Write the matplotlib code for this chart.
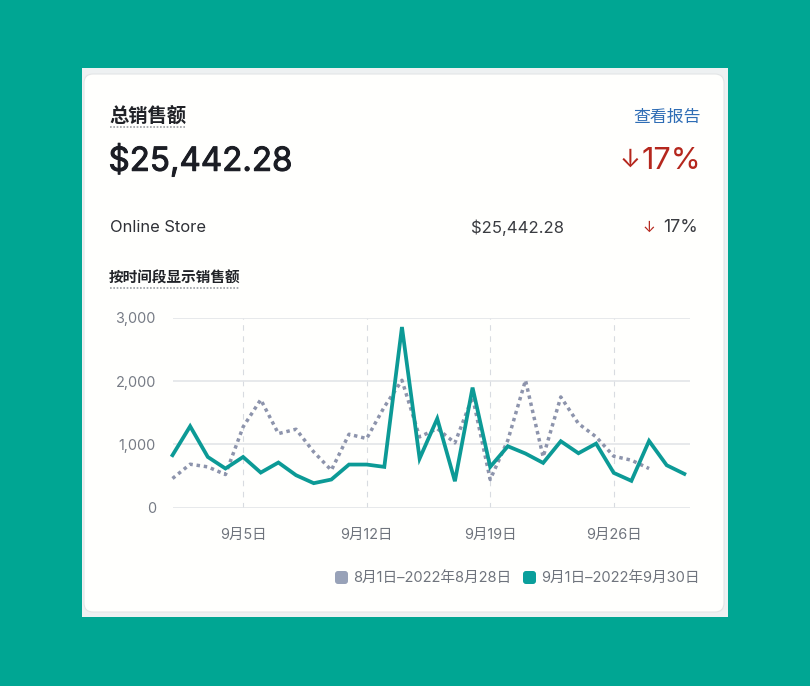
import matplotlib
matplotlib.use("Agg")
import matplotlib.pyplot as plt
import matplotlib.patheffects as pe
from matplotlib.patches import FancyBboxPatch, Rectangle

plt.rcParams['font.family'] = ['Inter', 'Noto Sans CJK SC', 'DejaVu Sans']

days_prev = list(range(1, 29))
days_cur = list(range(1, 31))
sales_prev = [459, 685, 643, 522, 1276, 1708, 1170, 1239, 880, 590, 1160, 1091, 1592, 2014,
              1118, 1249, 1023, 1750, 443, 1065, 2014, 801, 1750, 1328, 1118, 812, 749, 617]
sales_cur = [828, 1286, 800, 617, 800, 553, 712, 511, 385, 443, 680, 680, 643, 2857, 775,
             1407, 416, 1898, 643, 970, 854, 706, 1049, 859, 1012, 548, 422, 1054, 669, 532]
x_ticks = [5, 12, 19, 26]
x_labels = ['9月5日', '9月12日', '9月19日', '9月26日']
y_ticks = [0, 1000, 2000, 3000]
y_labels = ['0', '1,000', '2,000', '3,000']
legend_labels = ['8月1日–2022年8月28日', '9月1日–2022年9月30日']

TEAL_BG = '#00a693'
TEAL = '#0c9a96'
GRAY = '#8d94ac'
W, H = 810, 686
CJK = ['Noto Sans CJK SC', 'DejaVu Sans']

fig = plt.figure(figsize=(W / 100, H / 100), dpi=100, facecolor=TEAL_BG)

# pixel overlay for the card and the text
bg = fig.add_axes([0, 0, 1, 1])
bg.set_xlim(0, W)
bg.set_ylim(H, 0)
bg.axis('off')
bg.add_patch(Rectangle((82, 68), 646, 549, fc='#eef1f2', ec='none'))
bg.add_patch(FancyBboxPatch((84, 74), 640, 538, boxstyle='round,pad=0,rounding_size=9',
                            fc='#fffffd', ec='#e3e5e6', lw=0.8))

DARK = '#202227'
bg.text(109, 116, '总销售额', fontsize=13.9, color=DARK, va='center', family=CJK, fontweight='bold')
bg.plot([110, 186], [127, 127], color='#9a9da3', lw=1.2, ls=(0, (1, 1)))
bg.text(700.5, 116.5, '查看报告', fontsize=12.2, color='#2f6db5', va='center', ha='right', family=CJK)
bg.text(108.5, 161, '$25,442.28', fontsize=23.8, color='#1b1d24', va='center',
        path_effects=[pe.withStroke(linewidth=0.7, foreground='#1b1d24')])
bg.text(701.5, 161, '17%', fontsize=22, color='#b5271d', va='center', ha='right')
bg.text(640, 160, '↓', fontsize=18, color='#b5271d', va='center', ha='right')
bg.text(110.5, 227.5, 'Online Store', fontsize=11.9, color='#2e3036', va='center')
bg.text(564.5, 227.5, '$25,442.28', fontsize=12, color='#3a3c41', va='center', ha='right')
bg.text(655, 227.5, '↓', fontsize=11, color='#b5271d', va='center', ha='right')
bg.text(698, 227.5, '17%', fontsize=12.8, color='#3a3c41', va='center', ha='right')
bg.text(109, 278, '按时间段显示销售额', fontsize=10.5, color=DARK, va='center', family=CJK, fontweight='bold')
bg.plot([110, 239], [287.5, 287.5], color='#9a9da3', lw=1.2, ls=(0, (1, 1)))

# legend swatches
bg.add_patch(FancyBboxPatch((335, 571), 13, 13, boxstyle='round,pad=0,rounding_size=3',
                            fc='#98a2b8', ec='none'))
bg.add_patch(FancyBboxPatch((523, 571), 13, 13, boxstyle='round,pad=0,rounding_size=3',
                            fc='#0a9f9b', ec='none'))
bg.text(353.5, 578, legend_labels[0], fontsize=10.55, color='#6f747d', va='center')
bg.text(541.5, 578, legend_labels[1], fontsize=10.55, color='#6f747d', va='center')

# chart: Sep 1 sits on the left edge
px_per_day = 17.65
left, right, top, bottom = 172.5, 690, 318, 507.5
ax = fig.add_axes([left / W, 1 - bottom / H, (right - left) / W, (bottom - top) / H])
ax.patch.set_alpha(0)
ax.set_xlim(1, 1 + (right - left) / px_per_day)
ax.set_ylim(0, 3000)
for s in ax.spines.values():
    s.set_visible(False)
ax.set_xticks(x_ticks)
ax.set_xticklabels(x_labels)
ax.set_yticks(y_ticks)
ax.set_yticklabels(y_labels)
ax.tick_params(axis='x', length=0, pad=14.5, labelsize=10.4, labelcolor='#6f747d')
ax.tick_params(axis='y', length=0, pad=12, labelsize=10.4, labelcolor='#767b85')
ax.grid(axis='y', color='#e3e5e8', lw=1.2, zorder=0)
ax.grid(axis='x', color='#d8dbe0', lw=0.8, ls=(0, (5, 5)), zorder=0)
ax.set_axisbelow(True)

ax.plot(days_prev, sales_prev, color=GRAY, lw=2.5, ls=(0, (1, 1.1)), clip_on=False, zorder=3)
ax.plot(days_cur, sales_cur, color=TEAL, lw=2.7, clip_on=False, zorder=4, solid_joinstyle='miter')

fig.savefig('out.png', dpi=100, facecolor=fig.get_facecolor())
